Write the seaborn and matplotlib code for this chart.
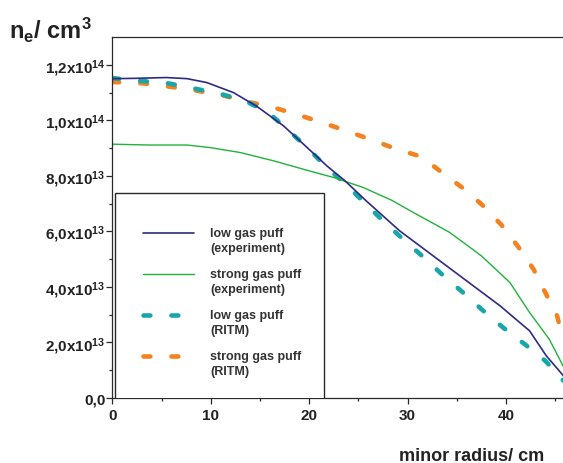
import numpy as np
import pandas as pd
import matplotlib
matplotlib.use("Agg")
import matplotlib.pyplot as plt
from matplotlib.legend_handler import HandlerLine2D
from matplotlib.lines import Line2D
from matplotlib.patches import Rectangle
import seaborn as sns

# Electron density profiles (units of 1e13 cm^-3) versus minor radius (cm)
low_exp_r = [0, 2.1, 5.5, 7.6, 9.6, 12.3, 14.7, 17.4, 19.8, 21.8, 23.65, 25.8,
             27.5, 29.2, 32.6, 36.0, 39.4, 41.4, 42.4, 44.1, 45.7, 46.2]
low_exp_n = [11.50, 11.51, 11.54, 11.50, 11.36, 11.00, 10.50, 9.80, 9.02, 8.36,
             7.82, 7.10, 6.56, 6.02, 5.12, 4.22, 3.32, 2.72, 2.42, 1.52, 0.86, 0.65]

strong_exp_r = [0, 3.8, 7.6, 9.9, 13.0, 16.4, 19.8, 22.5, 25.5, 28.4, 30.9,
                34.3, 37.5, 40.4, 42.4, 44.4, 45.8, 46.2]
strong_exp_n = [9.14, 9.11, 9.11, 9.02, 8.84, 8.54, 8.20, 7.94, 7.58, 7.12, 6.62,
                5.96, 5.12, 4.16, 3.08, 2.12, 1.16, 0.95]

low_ritm_r = [0, 3.15, 5.7, 8.4, 10.9, 13.5, 15.85, 17.9, 19.9, 21.8, 23.85,
              25.7, 27.7, 29.6, 31.6, 33.6, 35.7, 37.7, 39.7, 41.9, 44.0, 45.7, 46.2]
low_ritm_n = [11.52, 11.41, 11.33, 11.14, 10.96, 10.70, 10.28, 9.64, 8.98, 8.30,
              7.66, 7.00, 6.32, 5.70, 5.08, 4.42, 3.78, 3.14, 2.54, 1.94, 1.34,
              0.68, 0.50]

strong_ritm_r = [0, 3.15, 5.86, 8.4, 11.1, 13.66, 16.2, 18.7, 21.3, 23.8, 26.4,
                 28.9, 31.4, 33.5, 35.7, 37.6, 39.5, 41.2, 42.8, 44.0, 45.2, 45.8, 46.2]
strong_ritm_n = [11.38, 11.33, 11.21, 11.08, 10.91, 10.67, 10.48, 10.22, 9.92,
                 9.62, 9.29, 8.96, 8.69, 8.12, 7.54, 6.95, 6.25, 5.47, 4.64, 3.80,
                 2.96, 2.12, 1.80]

series_labels = ["low gas puff\n(experiment)", "strong gas puff\n(experiment)",
                 "low gas puff\n(RITM)", "strong gas puff\n(RITM)"]

xtick_values = [0, 10, 20, 30, 40]
ytick_values = [0, 2e13, 4e13, 6e13, 8e13, 1e14, 1.2e14]
ytick_labels = ["0,0", "2,0x10$^{13}$", "4,0x10$^{13}$", "6,0x10$^{13}$",
                "8,0x10$^{13}$", "1,0x10$^{14}$", "1,2x10$^{14}$"]

sns.set_theme(style="ticks")
plt.rcParams["font.family"] = ["Liberation Sans", "DejaVu Sans"]
plt.rcParams["mathtext.default"] = "regular"
plt.rcParams["axes.edgecolor"] = "#2a2a2a"
plt.rcParams["xtick.color"] = "#2a2a2a"
plt.rcParams["ytick.color"] = "#2a2a2a"

NAVY = "#2e2a86"
GREEN = "#1fb23c"
TEAL = "#19a6a9"
ORANGE = "#f5821f"

fig = plt.figure(figsize=(5.63, 4.64), dpi=100)
ax = fig.add_axes([112.3 / 563, 1 - 399 / 464, (563 - 112.3) / 563, (399 - 38) / 464])


def frame(r, n):
    return pd.DataFrame({"r": r, "n": np.asarray(n) * 1e13})


dash = (0, (1.5, 4.6))
sns.lineplot(data=frame(strong_ritm_r, strong_ritm_n), x="r", y="n", ax=ax,
             color=ORANGE, lw=3.3, linestyle=dash, dash_capstyle="round",
             sort=False, errorbar=None, label=series_labels[3])
sns.lineplot(data=frame(low_ritm_r, low_ritm_n), x="r", y="n", ax=ax,
             color=TEAL, lw=3.3, linestyle=dash, dash_capstyle="round",
             sort=False, errorbar=None, label=series_labels[2])
sns.lineplot(data=frame(strong_exp_r, strong_exp_n), x="r", y="n", ax=ax,
             color=GREEN, lw=1.0, sort=False, errorbar=None, label=series_labels[1])
sns.lineplot(data=frame(low_exp_r, low_exp_n), x="r", y="n", ax=ax,
             color=NAVY, lw=1.2, sort=False, errorbar=None, label=series_labels[0])

ax.set_xlim(0, 45.8)
ax.set_ylim(0, 1.3e14)
ax.set_xlabel("")
ax.set_ylabel("")

ax.set_xticks(xtick_values)
ax.set_xticks([5, 15, 25, 35, 45], minor=True)
ax.set_yticks(ytick_values)
ax.set_yticks([1e13, 3e13, 5e13, 7e13, 9e13, 1.1e14], minor=True)
ax.set_yticklabels(ytick_labels)
ax.tick_params(axis="both", which="major", direction="out", length=4.5, width=0.9,
               labelsize=11, labelcolor="#222222")
ax.tick_params(axis="both", which="minor", direction="out", length=2.5, width=0.9)
ax.tick_params(axis="y", which="major", pad=0.5)
ax.tick_params(axis="x", which="major", pad=3)
for lbl in ax.get_xticklabels() + ax.get_yticklabels():
    lbl.set_fontweight("bold")

for side in ("left", "bottom", "top"):
    ax.spines[side].set_visible(True)
    ax.spines[side].set_linewidth(0.9)
ax.spines["right"].set_visible(False)


class FirstLineHandler(HandlerLine2D):
    """Place the legend sample level with the first line of a two-line label."""

    def create_artists(self, legend, orig_handle, xdescent, ydescent, width,
                       height, fontsize, trans):
        artists = super().create_artists(legend, orig_handle, xdescent, ydescent,
                                         width, height, fontsize, trans)
        for a in artists:
            a.set_ydata(np.asarray(a.get_ydata()) + 0.6 * fontsize)
        return artists


handles, labels = ax.get_legend_handles_labels()
order = [labels.index(s) for s in series_labels]
handles = [handles[i] for i in order]
labels = [labels[i] for i in order]

# Legend box outline
ax.add_patch(Rectangle((0.006, -0.002), 0.464, 0.57, transform=ax.transAxes,
                       fill=True, facecolor="white", edgecolor="#2a2a2a",
                       lw=1.0, zorder=4))
leg = ax.legend(handles, labels, loc="upper left",
                bbox_to_anchor=((143 - 112.3) / 450.7, (399 - 228) / 361),
                frameon=False, borderpad=0, borderaxespad=0,
                handlelength=4.1, handletextpad=1.3, labelspacing=1.1,
                prop={"size": 9, "weight": "bold"},
                handler_map={Line2D: FirstLineHandler()})
leg.set_zorder(5)
for t in leg.get_texts():
    t.set_color("#333333")
    t.set_linespacing(1.35)

fig.text(9 / 563, 1 - 39 / 464, "n$_e$/ cm$^3$", fontsize=17, fontweight="bold",
         color="#222222", ha="left", va="baseline")
fig.text(544 / 563, 1 - 461 / 464, "minor radius/ cm", fontsize=13,
         fontweight="bold", color="#222222", ha="right", va="baseline")

fig.savefig("out.png", dpi=100)
